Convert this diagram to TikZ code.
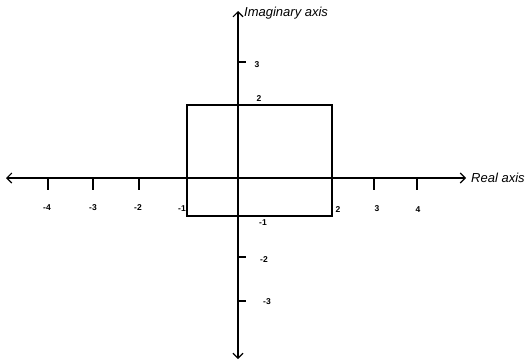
\documentclass[tikz,border=0pt]{standalone}
\usepackage{fontspec}
\setmainfont{Liberation Sans}
\usetikzlibrary{arrows.meta}
\begin{document}
\begin{tikzpicture}[x=1pt,y=-1pt,
  axis/.style={line width=1.1pt,-{Straight Barb[length=5pt,width=10pt,line width=1.1pt]}},
  boxline/.style={line width=1.4pt},
  tick/.style={line width=1.1pt},
  num/.style={font=\fontsize{8.5}{9}\selectfont\bfseries,inner sep=0pt},
  axlabel/.style={font=\fontsize{13}{14}\selectfont\itshape,inner sep=0pt,anchor=west}]
\useasboundingbox (0,0) rectangle (527,362);
% axes
\coordinate (O) at (238,178);
\coordinate (L) at (6,178);
\coordinate (R) at (466,178);
\coordinate (T) at (238,11);
\coordinate (B) at (238,359);
\draw[axis] (O) -- (L);
\draw[axis] (O) -- (R);
\draw[axis] (O) -- (T);
\draw[axis] (O) -- (B);
\node[axlabel] (re) at (471,178) {Real axis};
\node[axlabel] (im) at (244,13) {Imaginary axis};
% rectangle
\coordinate (r1) at (187,105);
\coordinate (r2) at (332,216);
\draw[boxline] (r1) rectangle (r2);
% x ticks
\foreach \x/\n in {48/a,93/b,139/c,374/d,417/e}{
  \coordinate (xt\n) at (\x,178);
  \coordinate (xb\n) at (\x,190);
  \draw[tick] (xt\n) -- (xb\n);
}
% y ticks
\foreach \y/\n in {62/a,257/b,301/c}{
  \coordinate (yl\n) at (238,\y);
  \coordinate (yr\n) at (246,\y);
  \draw[tick] (yl\n) -- (yr\n);
}
% x labels
\node[num] (xm4) at (47,208) {-4};
\node[num] (xm3) at (93,208) {-3};
\node[num] (xm2) at (138,208) {-2};
\node[num] (xm1) at (182,209) {-1};
\node[num] (xp2) at (338,210) {2};
\node[num] (xp3) at (377,209) {3};
\node[num] (xp4) at (418,210) {4};
% y labels
\node[num] (yp3) at (257,65) {3};
\node[num] (yp2) at (259,99) {2};
\node[num] (ym1) at (263,223) {-1};
\node[num] (ym2) at (264,260) {-2};
\node[num] (ym3) at (267,302) {-3};
\end{tikzpicture}
\end{document}
